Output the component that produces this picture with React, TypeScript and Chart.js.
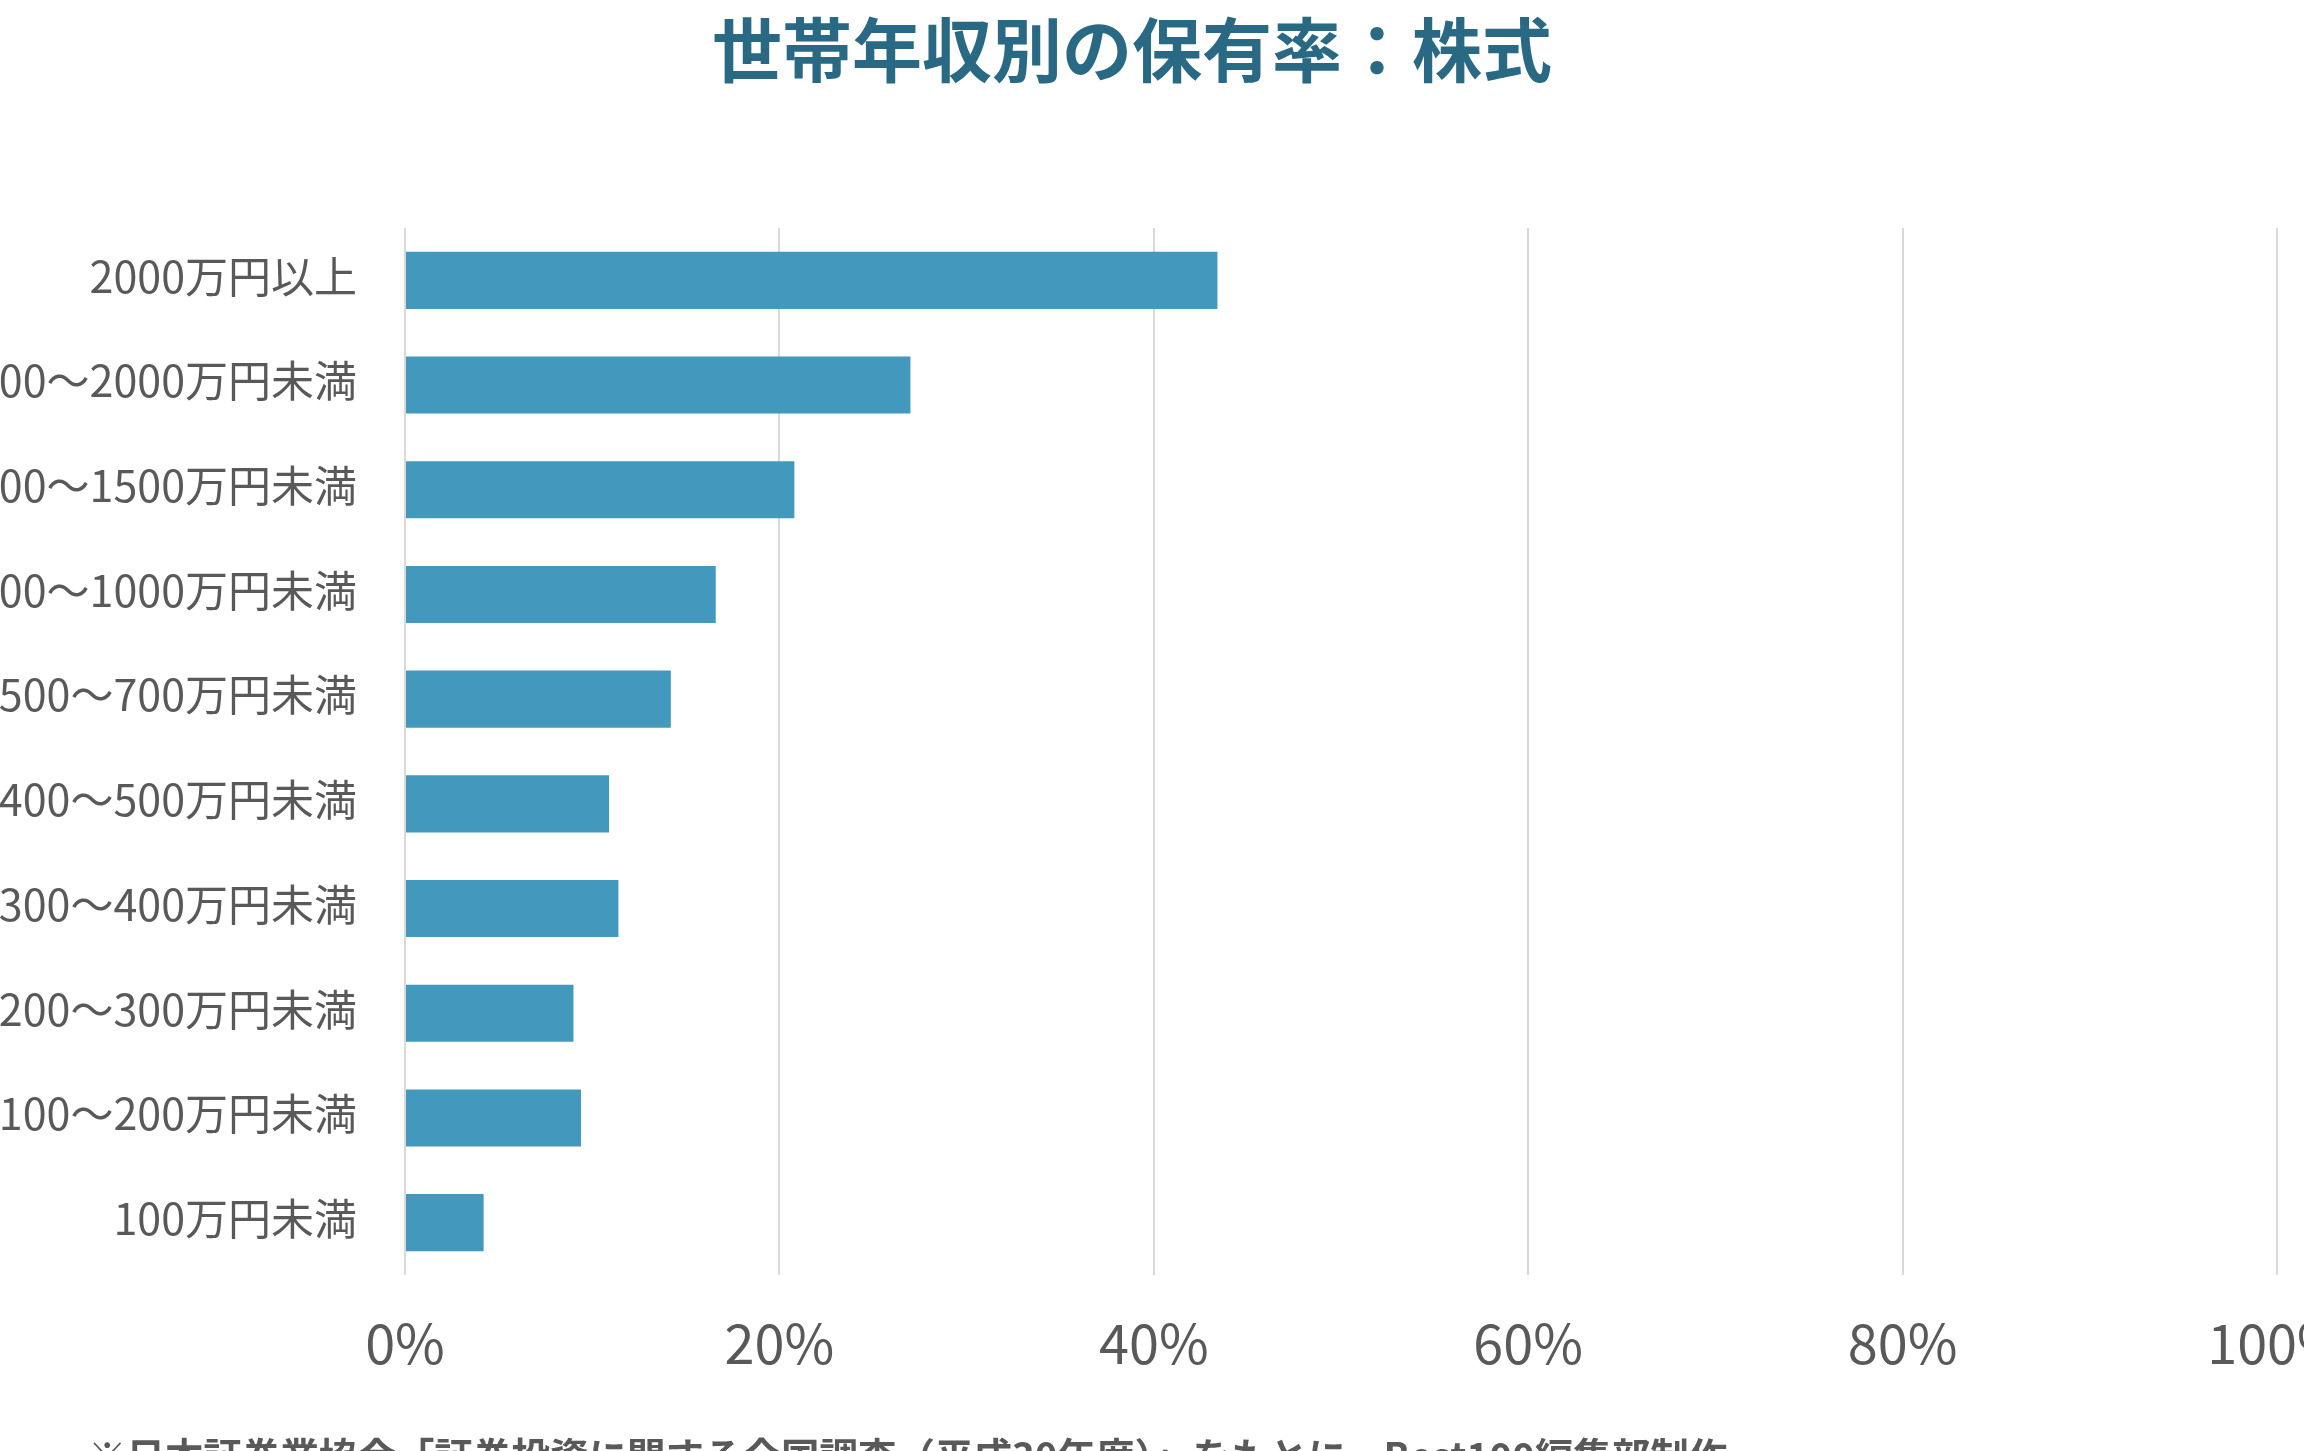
import { Chart, registerables } from "chart.js";
import { useEffect, useRef } from "react";

Chart.register(...registerables);

const incomeBands: string[] = [
  "2000万円以上",
  "1500～2000万円未満",
  "1000～1500万円未満",
  "700～1000万円未満",
  "500～700万円未満",
  "400～500万円未満",
  "300～400万円未満",
  "200～300万円未満",
  "100～200万円未満",
  "100万円未満",
];

const stockRates: number[] = [43.4, 27.0, 20.8, 16.6, 14.2, 10.9, 11.4, 9.0, 9.4, 4.2];

const tickSteps: number[] = [0, 20, 40, 60, 80, 100];

const chartTitle = "世帯年収別の保有率：株式";
const sourceNote =
  "※日本証券業協会「証券投資に関する全国調査（平成30年度）」をもとに、Best100編集部制作";

// canvas is wider/taller than the page so labels get clipped like the original
const OFFSET_X = 100;
const CANVAS_W = 2504;
const CANVAS_H = 1520;
const FONT = "'Noto Sans CJK JP', 'Noto Sans', sans-serif";

const textPlugin = {
  id: "titleAndNote",
  afterDraw(chart: Chart) {
    const ctx = chart.ctx;
    ctx.save();
    ctx.fillStyle = "#2a6984";
    ctx.font = `bold 70px ${FONT}`;
    ctx.textAlign = "center";
    ctx.textBaseline = "middle";
    ctx.fillText(chartTitle, 1132 + OFFSET_X, 50);

    ctx.fillStyle = "#595959";
    ctx.font = `bold 38.5px ${FONT}`;
    ctx.textAlign = "left";
    ctx.textBaseline = "top";
    ctx.fillText(sourceNote, 88 + OFFSET_X, 1437);
    ctx.restore();
  },
};

const App: React.FC = () => {
  const chartRef = useRef<HTMLCanvasElement | null>(null);
  const chartInstance = useRef<Chart<"bar"> | null>(null);

  useEffect(() => {
    if (chartInstance.current) {
      chartInstance.current.destroy();
    }
    const ctx = chartRef.current?.getContext("2d");
    if (ctx) {
      chartInstance.current = new Chart(ctx, {
        type: "bar",
        data: {
          labels: incomeBands,
          datasets: [
            {
              data: stockRates,
              backgroundColor: "#4399bd",
              barPercentage: 0.545,
              categoryPercentage: 1,
            },
          ],
        },
        options: {
          indexAxis: "y",
          responsive: false,
          animation: false,
          devicePixelRatio: 1,
          layout: { padding: { top: 228, right: 127, bottom: 0, left: 0 } },
          plugins: {
            legend: { display: false },
            tooltip: { enabled: false },
            title: { display: false },
          },
          scales: {
            x: {
              min: 0,
              max: 100,
              afterBuildTicks: (s: any) => {
                s.ticks = tickSteps.map((v) => ({ value: v }));
              },
              afterFit: (s: any) => {
                s.height = 245;
                s.paddingLeft = 0;
                s.paddingRight = 0;
              },
              grid: { color: "#d9d9d9", lineWidth: 2, drawTicks: false },
              border: { display: false },
              ticks: {
                padding: 36,
                color: "#595959",
                font: { family: FONT, size: 54 },
                callback: (v: any) => `${v}%`,
              },
            },
            y: {
              afterFit: (s: any) => {
                s.width = 405 + OFFSET_X;
                s.paddingTop = 0;
                s.paddingBottom = 0;
              },
              grid: { display: false, drawTicks: false },
              border: { display: false },
              ticks: {
                padding: 48,
                labelOffset: -4,
                color: "#595959",
                font: { family: FONT, size: 43 },
              },
            },
          },
        },
        plugins: [textPlugin],
      });
    }
    return () => {
      if (chartInstance.current) {
        chartInstance.current.destroy();
        chartInstance.current = null;
      }
    };
  }, []);

  return (
    <div
      style={{
        position: "fixed",
        left: 0,
        top: 0,
        width: "2304px",
        height: "1451px",
        overflow: "hidden",
        background: "#ffffff",
      }}
    >
      <canvas
        ref={chartRef}
        width={CANVAS_W}
        height={CANVAS_H}
        style={{
          position: "absolute",
          left: `-${OFFSET_X}px`,
          top: 0,
          width: `${CANVAS_W}px`,
          height: `${CANVAS_H}px`,
        }}
      />
    </div>
  );
};

export default App;
